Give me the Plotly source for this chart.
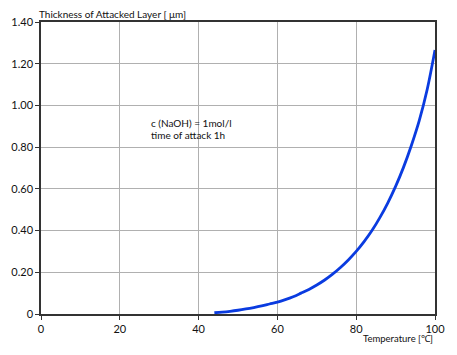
import plotly.graph_objects as go

temperature = [44, 46, 48, 50, 52, 54, 56, 58, 60, 62, 64, 66, 68, 70, 72, 74, 76, 78, 80, 82, 84, 86, 88, 90, 92, 94, 96, 98, 100]
thickness = [0.006, 0.009, 0.013, 0.018, 0.024, 0.031, 0.039, 0.048, 0.057, 0.069, 0.083, 0.100, 0.118, 0.139,
             0.163, 0.191, 0.223, 0.259, 0.300, 0.347, 0.400, 0.462, 0.532, 0.612, 0.703, 0.808, 0.927, 1.075, 1.266]

y_ticks = [0, 0.2, 0.4, 0.6, 0.8, 1.0, 1.2, 1.4]
y_tick_labels = ["0", "0.20", "0.40", "0.60", "0.80", "1.00", "1.20", "1.40"]
x_ticks = [0, 20, 40, 60, 80, 100]
x_tick_labels = ["0", "20", "40", "60", "80", "100"]

font_family = "Lato, Open Sans, sans-serif"

fig = go.Figure()
fig.add_trace(go.Scatter(
    x=temperature, y=thickness, mode="lines",
    line=dict(color="#0a3be0", width=2.8, shape="spline", smoothing=1.0),
    showlegend=False, hoverinfo="skip",
))

axis_common = dict(
    showgrid=True, gridcolor="#b0b0b0", gridwidth=1,
    showline=True, linecolor="#333", linewidth=1.5, mirror=True,
    ticks="outside", ticklen=4, tickcolor="#333",
    zeroline=False, tickfont=dict(size=11), automargin=False,
)

# page body has an 8px default margin, so the figure is sized to fit beside it
fig.update_layout(
    width=449, height=347,
    margin=dict(l=33, r=22, t=14, b=41),
    paper_bgcolor="white", plot_bgcolor="white",
    font=dict(family=font_family, size=10, color="#111"),
    xaxis=dict(range=[0, 100], tickvals=x_ticks, ticktext=x_tick_labels, **axis_common),
    yaxis=dict(range=[0, 1.4], tickvals=y_ticks, ticktext=y_tick_labels, **axis_common),
    annotations=[
        dict(text="Thickness of Attacked Layer [ \u03bcm]", xref="paper", yref="paper",
             x=0, y=1, xanchor="left", yanchor="bottom", xshift=-3, yshift=1, borderpad=0,
             showarrow=False, font=dict(size=10)),
        dict(text="Temperature [\u2103]", xref="paper", yref="paper",
             x=1, y=0, xanchor="right", yanchor="top", yshift=-17, showarrow=False,
             font=dict(size=9.5)),
        dict(text="c (NaOH) = 1mol/l", xref="x", yref="y",
             x=27.5, y=0.915, xanchor="left", yanchor="middle", showarrow=False,
             font=dict(size=10)),
        dict(text="time of attack 1h", xref="x", yref="y",
             x=27.5, y=0.86, xanchor="left", yanchor="middle", showarrow=False,
             font=dict(size=10)),
    ],
)

fig.write_html("out.html")
